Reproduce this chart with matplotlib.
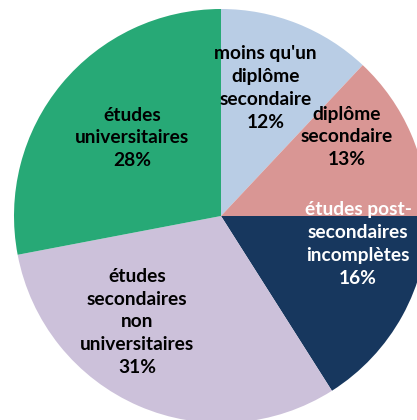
import matplotlib
matplotlib.use('Agg')
import matplotlib.pyplot as plt

# data (clockwise from 12 o'clock)
labels = ["moins qu'un\ndiplôme\nsecondaire", "diplôme\nsecondaire",
          "études post-\nsecondaires\nincomplètes",
          "études\nsecondaires\nnon\nuniversitaires",
          "études\nuniversitaires"]
values = [12, 13, 16, 31, 28]

colors = ['#B9CDE5', '#D99694', '#17375E', '#CCC1DA', '#27A976']
text_colors = ['black', 'black', 'white', 'black', 'black']
# label centres in pie units (radius = 1)
label_pos = [(0.215, 0.618), (0.609, 0.382), (0.662, -0.135),
             (-0.405, -0.512), (-0.430, 0.377)]

plt.rcParams['font.family'] = ['Lato', 'DejaVu Sans']

fig = plt.figure(figsize=(4.17, 4.20), dpi=100)
cx, cy, R = 221, 216, 207
ax = fig.add_axes([(cx - R) / 417, (420 - cy - R) / 420, 2 * R / 417, 2 * R / 420])

wedges, _ = ax.pie(values, colors=colors, startangle=90, counterclock=False,
                   radius=1, wedgeprops=dict(linewidth=0))
ax.set_xlim(-1, 1)
ax.set_ylim(-1, 1)
ax.set_aspect('auto')
ax.axis('off')

for lab, v, (x, y), tc in zip(labels, values, label_pos, text_colors):
    ax.text(x, y, '%s\n%d%%' % (lab, v), ha='center', va='center',
            color=tc, fontsize=13.8, fontweight='bold', linespacing=1.42)

fig.savefig('out.png', dpi=100)
